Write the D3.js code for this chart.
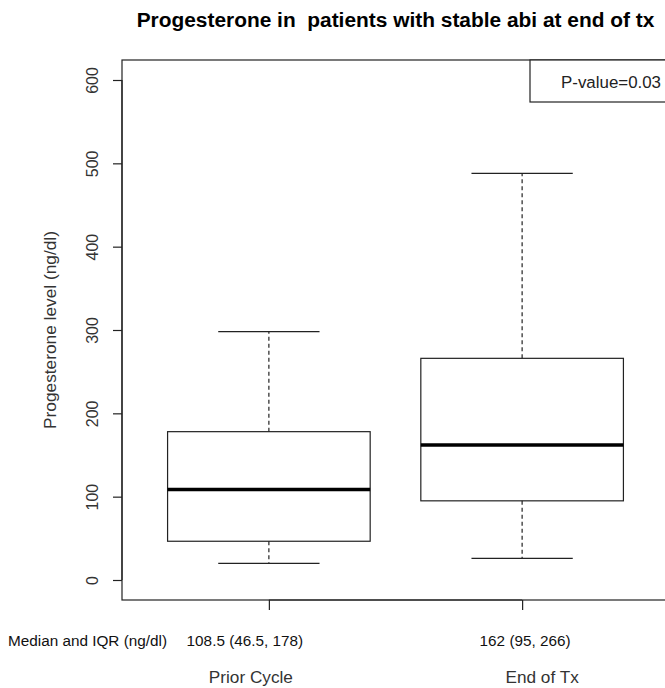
<!DOCTYPE html>
<html>
<head>
<meta charset="utf-8">
<script src="https://cdn.jsdelivr.net/npm/d3@7"></script>
<style>
  html, body { margin: 0; padding: 0; background: #fff; }
  svg { display: block; font-family: "Liberation Sans", Arial, sans-serif; }
</style>
</head>
<body>
<svg id="chart" width="665" height="688"></svg>
<script>
// Group names and five-number summaries (ng/dl)
const groups       = ["Prior Cycle", "End of Tx"];
const whiskerLow   = [20, 26];
const q1           = [46.5, 95];
const median       = [108.5, 162];
const q3           = [178, 266];
const whiskerHigh  = [298, 488];
const summaryText  = ["108.5 (46.5, 178)", "162 (95, 266)"];
const yTicks       = [0, 100, 200, 300, 400, 500, 600];
const pValueText   = "P-value=0.03";

const svg = d3.select("#chart");

// Plot region (axes extend 4% past the data limits, R style)
const plot = { left: 122, right: 669, top: 60, bottom: 600 };
const yLim = [0, 600], xLim = [0.5, 2.5];
const pad = v => (v[1] - v[0]) * 0.04;

const x = d3.scaleLinear()
  .domain([xLim[0] - pad(xLim), xLim[1] + pad(xLim)])
  .range([plot.left, plot.right]);
const y = d3.scaleLinear()
  .domain([yLim[0] - pad(yLim), yLim[1] + pad(yLim)])
  .range([plot.bottom, plot.top]);

const boxes = groups.map((g, i) => ({
  name: g, pos: i + 1,
  lo: whiskerLow[i], q1: q1[i], med: median[i], q3: q3[i], hi: whiskerHigh[i]
}));

const boxW = 0.8, capW = boxW / 2;
const ink = "#222";

// Boxes
const gBox = svg.append("g");
boxes.forEach(b => {
  const g = gBox.append("g");
  // whiskers
  g.append("line")
    .attr("x1", x(b.pos)).attr("x2", x(b.pos))
    .attr("y1", y(b.q3)).attr("y2", y(b.hi))
    .attr("stroke", ink).attr("stroke-width", 1.2).attr("stroke-dasharray", "4,3");
  g.append("line")
    .attr("x1", x(b.pos)).attr("x2", x(b.pos))
    .attr("y1", y(b.q1)).attr("y2", y(b.lo))
    .attr("stroke", ink).attr("stroke-width", 1.2).attr("stroke-dasharray", "4,3");
  // staples
  [b.lo, b.hi].forEach(v => {
    g.append("line")
      .attr("x1", x(b.pos - capW / 2)).attr("x2", x(b.pos + capW / 2))
      .attr("y1", y(v)).attr("y2", y(v))
      .attr("stroke", ink).attr("stroke-width", 1.2);
  });
  // box
  g.append("rect")
    .attr("x", x(b.pos - boxW / 2)).attr("width", x(b.pos + boxW / 2) - x(b.pos - boxW / 2))
    .attr("y", y(b.q3)).attr("height", y(b.q1) - y(b.q3))
    .attr("fill", "none").attr("stroke", ink).attr("stroke-width", 1.2);
  // median
  g.append("line")
    .attr("x1", x(b.pos - boxW / 2)).attr("x2", x(b.pos + boxW / 2))
    .attr("y1", y(b.med)).attr("y2", y(b.med))
    .attr("stroke", "#000").attr("stroke-width", 3.5);
});

// Plot frame
svg.append("rect")
  .attr("x", plot.left).attr("y", plot.top)
  .attr("width", plot.right - plot.left).attr("height", plot.bottom - plot.top)
  .attr("fill", "none").attr("stroke", ink).attr("stroke-width", 1.2);

// Y axis with rotated tick labels
const yAxis = svg.append("g")
  .attr("transform", `translate(${plot.left},0)`)
  .call(d3.axisLeft(y).tickValues(yTicks).tickSize(9).tickSizeOuter(0));
yAxis.select(".domain")
  .attr("d", `M0,${y(yTicks[0])}V${y(yTicks[yTicks.length - 1])}`)
  .attr("stroke", ink).attr("stroke-width", 1.2);
yAxis.selectAll(".tick line").attr("stroke", ink).attr("stroke-width", 1.2);
yAxis.selectAll(".tick text")
  .attr("x", null).attr("dy", null)
  .attr("transform", "translate(-30,0) rotate(-90)")
  .attr("text-anchor", "middle")
  .attr("dominant-baseline", "central")
  .attr("font-size", 16).attr("fill", "#333")
  .style("font-family", "Liberation Sans, Arial, sans-serif");

// X axis: ticks only
const xAxis = svg.append("g")
  .attr("transform", `translate(0,${plot.bottom})`)
  .call(d3.axisBottom(x).tickValues(boxes.map(b => b.pos)).tickSize(10).tickFormat(""));
xAxis.select(".domain")
  .attr("d", `M${x(1)},0H${x(2)}`)
  .attr("stroke", ink).attr("stroke-width", 1.2);
xAxis.selectAll(".tick line").attr("stroke", ink).attr("stroke-width", 1.2);

// Summary row under the axis
svg.append("text")
  .attr("x", 8).attr("y", 646)
  .attr("font-size", 15.3).attr("fill", "#111")
  .text("Median and IQR (ng/dl)");
svg.selectAll(".summary").data(boxes).enter().append("text")
  .attr("class", "summary")
  .attr("x", (d, i) => x(d.pos) - [24, -3][i])
  .attr("y", 646)
  .attr("text-anchor", "middle")
  .attr("font-size", 15.3).attr("fill", "#111")
  .text((d, i) => summaryText[i]);

// Group names
svg.selectAll(".group").data(boxes).enter().append("text")
  .attr("class", "group")
  .attr("x", (d, i) => x(d.pos) - [18, -20][i])
  .attr("y", 683)
  .attr("text-anchor", "middle")
  .attr("font-size", 17.2).attr("fill", "#333")
  .text(d => d.name);

// Y axis title
svg.append("text")
  .attr("transform", `translate(56,${(plot.top + plot.bottom) / 2}) rotate(-90)`)
  .attr("text-anchor", "middle")
  .attr("font-size", 17.3).attr("fill", "#333")
  .text("Progesterone level (ng/dl)");

// Chart title
svg.append("text")
  .attr("x", (plot.left + plot.right) / 2).attr("y", 27)
  .attr("text-anchor", "middle")
  .attr("font-size", 20.9).attr("font-weight", "bold").attr("fill", "#000")
  .text("Progesterone in  patients with stable abi at end of tx")
  .style("white-space", "pre");

// P-value legend box in the top right corner
const legX = 530, legBottom = 102;
svg.append("rect")
  .attr("x", legX).attr("y", plot.top)
  .attr("width", plot.right - legX).attr("height", legBottom - plot.top)
  .attr("fill", "#fff").attr("stroke", ink).attr("stroke-width", 1.2);
svg.append("text")
  .attr("x", 561).attr("y", 88)
  .attr("font-size", 16.9).attr("fill", "#222")
  .text(pValueText);
</script>
</body>
</html>
